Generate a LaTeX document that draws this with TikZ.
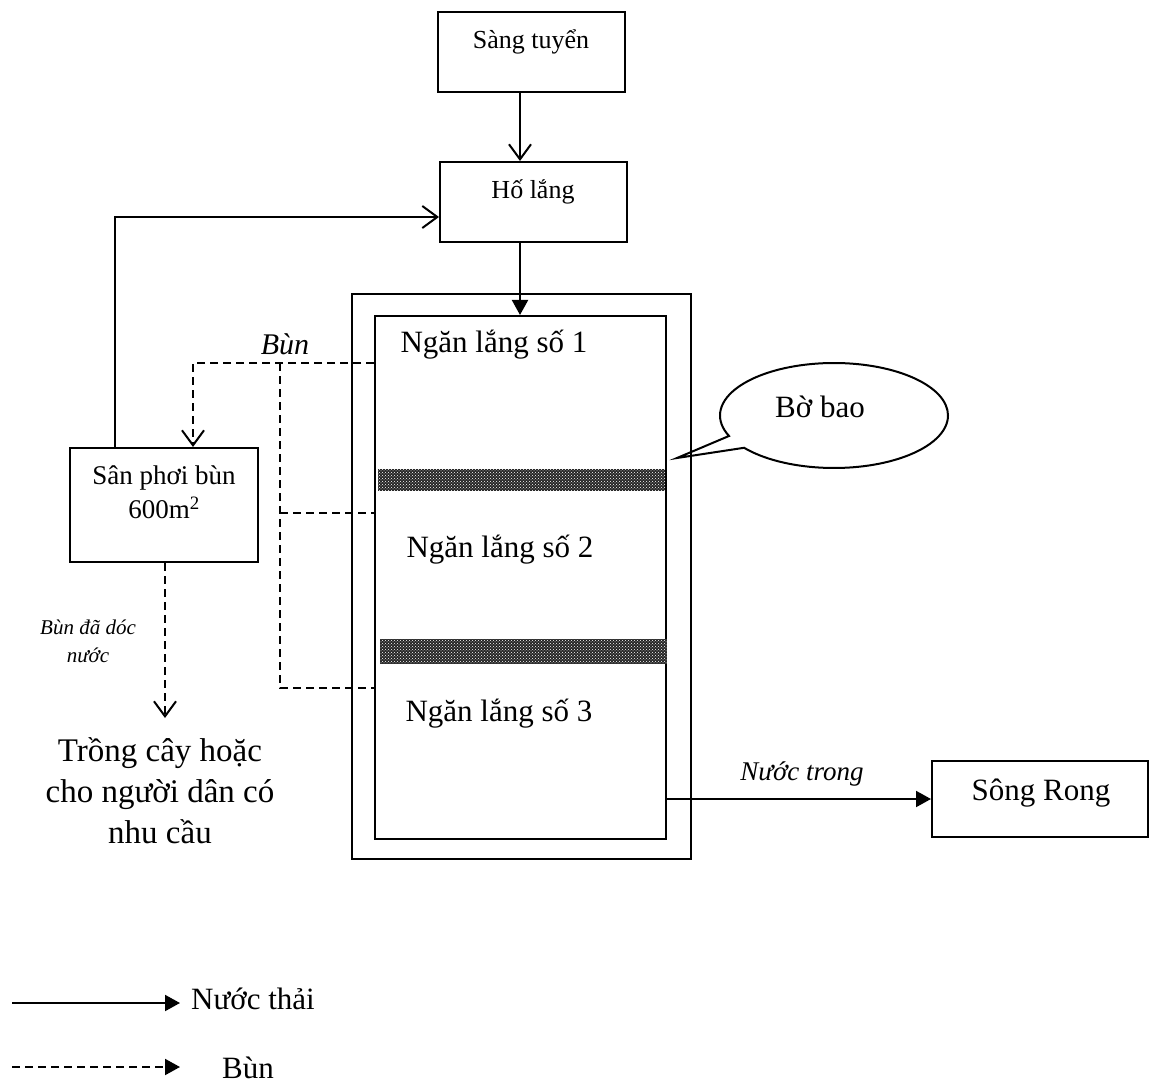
\documentclass[tikz,border=0pt]{standalone}
\usepackage{fontspec}
\setmainfont{Liberation Serif}
\usetikzlibrary{arrows.meta,shapes.callouts,patterns}
\begin{document}
\begin{tikzpicture}[x=1pt,y=-1pt,
  box/.style={draw,line width=2pt,rectangle,inner sep=0pt},
  txt/.style={inner sep=0pt,align=center},
  flow/.style={line width=2pt},
  bunline/.style={line width=2pt,dash pattern=on 8pt off 5pt},
  openarr/.style={-{Straight Barb[length=15pt,width=22pt,line width=2pt]}},
  triarr/.style={-{Triangle[length=15pt,width=16pt]}},
  f31/.style={font=\fontsize{31}{40}\selectfont},
  f26/.style={font=\fontsize{26}{30}\selectfont},
]
\useasboundingbox (0,0) rectangle (1152,1086);
% boxes
\node[box,minimum width=187,minimum height=80] (st) at (531.5,52) {};
\node[box,minimum width=187,minimum height=80] (hl) at (533.5,202) {};
\node[box,minimum width=188,minimum height=114] (sp) at (164,505) {};
\node[box,minimum width=339,minimum height=565] (outer) at (521.5,576.5) {};
\node[box,minimum width=291,minimum height=523] (inner) at (520.5,577.5) {};
\node[box,minimum width=216,minimum height=76] (sr) at (1040,799) {};
% bands
\fill[black!85] (378,469) rectangle (665,491);
\fill[pattern=crosshatch dots,pattern color=white] (378,469) rectangle (665,491);
\fill[black!85] (380,639) rectangle (667,664);
\fill[pattern=crosshatch dots,pattern color=white] (380,639) rectangle (667,664);
% texts
\node[txt,f26] (stt) at (531,42) {Sàng tuyển};
\node[txt,f26] (hlt) at (533,192) {Hố lắng};
\node[txt,f31] (n1) at (494,345) {Ngăn lắng số 1};
\node[txt,f31] (n2) at (500,550) {Ngăn lắng số 2};
\node[txt,f31] (n3) at (499,714) {Ngăn lắng số 3};
\node[txt,f31] (srt) at (1041,793) {Sông Rong};
\node[txt,font=\fontsize{30}{36}\selectfont\itshape] (bunl) at (285,344) {Bùn};
\node[txt,font=\fontsize{27}{34}\selectfont] (spt) at (164,492) {Sân phơi bùn\\600m\textsuperscript{2}};
\node[txt,font=\fontsize{21}{28}\selectfont\itshape] (dl) at (88,641) {Bùn đã dóc\\nước};
\node[txt,font=\fontsize{33}{41}\selectfont] (tr) at (160,791) {Trồng cây hoặc\\cho người dân có\\nhu cầu};
\node[txt,font=\fontsize{27}{34}\selectfont\itshape] (nt) at (802,774) {Nước trong};
% callout
\coordinate (tip) at (677,458);
\node[ellipse callout,draw,line width=2pt,minimum width=228,minimum height=105,callout absolute pointer=(tip)] (bb) at (834,415.5) {};
\node[txt,f31] (bbt) at (820,407) {Bờ bao};
% solid flows
\draw[flow,openarr] (st.south -| 520,0) -- (hl.north -| 520,0);
\draw[flow,triarr] (hl.south -| 520,0) -- (inner.north -| 520,0);
\draw[flow,openarr] (sp.north -| 115,0) |- (hl.west |- 0,217);
\draw[flow,triarr] (inner.east |- sr.west) -- (sr.west);
% sludge
\draw[bunline,openarr] (inner.west |- 0,363) -| (sp.north -| 193,0);
\draw[bunline] (280,363) -- (280,688) -- (inner.west |- 0,688);
\draw[bunline] (280,513) -- (inner.west |- 0,513);
\draw[bunline,openarr] (sp.south -| 165,0) -- (165,718);
% legend
\coordinate (la1) at (12,1003);
\coordinate (la2) at (180,1003);
\coordinate (lb1) at (12,1067);
\coordinate (lb2) at (180,1067);
\draw[flow,triarr] (la1) -- (la2);
\draw[bunline,triarr] (lb1) -- (lb2);
\node[txt,f31] (lgn) at (253,999) {Nước thải};
\node[txt,f31] (lgb) at (248,1068) {Bùn};
\end{tikzpicture}
\end{document}
